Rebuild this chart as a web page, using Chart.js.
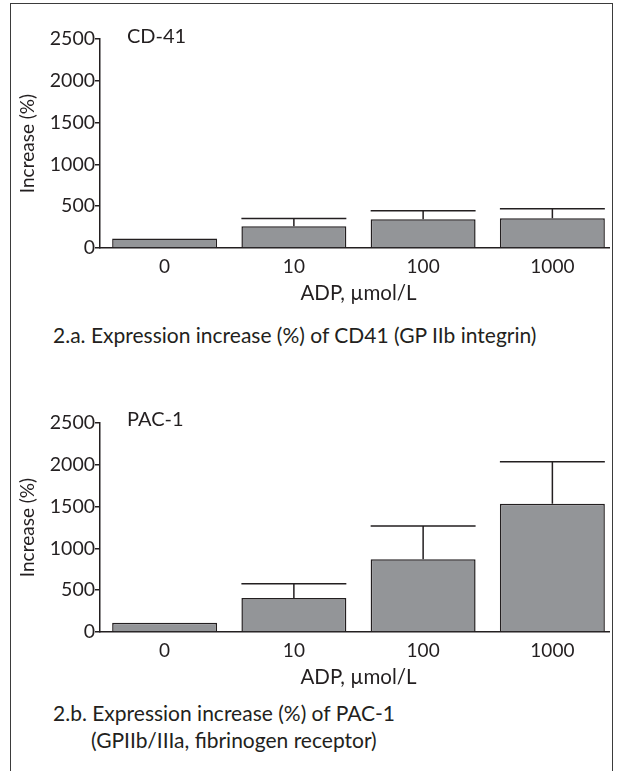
<!DOCTYPE html>
<html>
<head>
<meta charset="utf-8">
<script src="https://cdn.jsdelivr.net/npm/chart.js@4.4.1/dist/chart.umd.min.js"></script>
<style>
    body { margin: 0; background: #fff; width: 617px; height: 771px; overflow: hidden; position: relative;
           font-family: Lato, "Open Sans", sans-serif; color: #231f20; }
    .frame { position: absolute; left: 10px; top: 3px; width: 601px; height: 800px; z-index: 2;
             border: 1.5px solid #3b3b3b; border-bottom: none; }
    .margin { position: absolute; left: 610px; top: 0; width: 7px; height: 771px; background: #fff; z-index: 1; }
    canvas { position: absolute; left: 0; }
    .txt { position: absolute; font-size: 21px; line-height: 24px; white-space: nowrap; }
    .panel { font-size: 20px; }
</style>
</head>
<body>
<div class="frame"></div>
<canvas id="cd41" width="617" height="310" style="top:0"></canvas>
<canvas id="pac1" width="617" height="310" style="top:384px"></canvas>
<div class="margin"></div>
<div class="txt panel" style="left:127px;top:23px">CD-41</div>
<div class="txt" style="left:53px;top:323px">2.a. Expression increase (%) of CD41 (GP IIb integrin)</div>
<div class="txt panel" style="left:127px;top:406px">PAC-1</div>
<div class="txt" style="left:53px;top:701px">2.b. Expression increase (%) of PAC-1</div>
<div class="txt" style="left:91px;top:728px">(GPIIb/IIIa, fibrinogen receptor)</div>
<script>
'use strict';

const doses = ['0', '10', '100', '1000'];
const yTicks = [0, 500, 1000, 1500, 2000, 2500];
const cd41Mean = [113, 261, 345, 357];
const cd41Upper = [null, 353, 445, 469];
const pac1Mean = [112, 406, 871, 1534];
const pac1Upper = [null, 578, 1269, 2036];

const ink = '#231f20';
const family = 'Lato, "Open Sans", sans-serif';

// upper-only error bars, cap as wide as the bar
const errorBars = {
    id: 'errorBars',
    afterDatasetsDraw(chart) {
        const ds = chart.data.datasets[0];
        if (!ds.upper) return;
        const meta = chart.getDatasetMeta(0);
        const y = chart.scales.y;
        const ctx = chart.ctx;
        ctx.save();
        ctx.strokeStyle = ink;
        ctx.lineWidth = 1.5;
        meta.data.forEach((bar, i) => {
            if (ds.upper[i] == null) return;
            const top = y.getPixelForValue(ds.data[i]);
            const cap = y.getPixelForValue(ds.upper[i]);
            const half = bar.width / 2;
            ctx.beginPath();
            ctx.moveTo(bar.x, top);
            ctx.lineTo(bar.x, cap);
            ctx.moveTo(bar.x - half, cap);
            ctx.lineTo(bar.x + half, cap);
            ctx.stroke();
        });
        ctx.restore();
    }
};

function makeChart(id, means, upper) {
    return new Chart(document.getElementById(id), {
        type: 'bar',
        data: {
            labels: doses,
            datasets: [{
                data: means,
                upper: upper,
                backgroundColor: '#939598',
                borderColor: ink,
                borderWidth: 1.5,
                barPercentage: 0.812,
                categoryPercentage: 1
            }]
        },
        options: {
            responsive: false,
            animation: false,
            layout: { padding: { top: 39, right: 0, left: 0, bottom: 0 } },
            plugins: { legend: { display: false }, tooltip: { enabled: false } },
            scales: {
                x: {
                    afterFit: s => { s.height = 62; },
                    border: { display: true, color: ink, width: 1.5 },
                    grid: { drawOnChartArea: false, drawTicks: false },
                    ticks: { color: ink, font: { family, size: 19 }, padding: 7 },
                    title: { display: true, text: 'ADP, µmol/L', color: ink,
                             font: { family, size: 20.5 }, padding: { top: 0, bottom: 4 } }
                },
                y: {
                    min: 0,
                    max: 2500,
                    afterBuildTicks: s => { s.ticks = yTicks.map(v => ({ value: v })); },
                    afterFit: s => { s.width = 100; },
                    border: { display: true, color: ink, width: 1.5 },
                    grid: { drawOnChartArea: false, drawTicks: true, tickLength: 5, color: ink, lineWidth: 1.5 },
                    ticks: { color: ink, font: { family, size: 19.5 }, padding: 0, callback: v => String(v) },
                    title: { display: true, text: 'Increase (%)', color: ink,
                             font: { family, size: 19 }, padding: { top: 16.5, bottom: 0 } }
                }
            }
        },
        plugins: [errorBars]
    });
}

makeChart('cd41', cd41Mean, cd41Upper);
makeChart('pac1', pac1Mean, pac1Upper);
</script>
</body>
</html>
